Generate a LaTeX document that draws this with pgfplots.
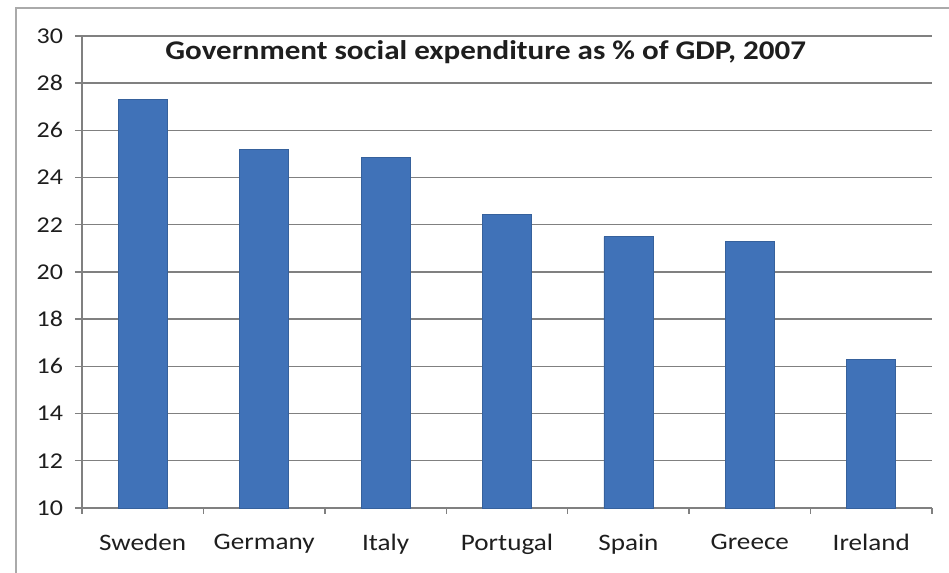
\documentclass[border=0pt]{standalone}
\usepackage{pgfplots}
\pgfplotsset{compat=1.18}
\usepackage{fontspec}
\setmainfont{Carlito}[FakeStretch=1.15]
\definecolor{barblue}{RGB}{64,114,184}
\definecolor{gridgray}{RGB}{128,128,128}
\definecolor{framegray}{RGB}{170,170,170}
\definecolor{txt}{RGB}{30,30,30}
\begin{document}
\begin{tikzpicture}
\path[use as bounding box] (-41pt,-32.5pt) rectangle (433.5pt,254pt);
\draw[framegray, line width=0.6pt] (-33pt,-32.5pt) -- (-33pt,250pt) -- (433.5pt,250pt);
\begin{axis}[
  at={(0,0)}, anchor=south west,
  scale only axis,
  width=425pt, height=236pt,
  xmin=-0.5, xmax=6.5,
  ymin=10, ymax=30,
  ytick={10,12,...,30},
  xtick={0,...,6},
  xticklabels={Sweden,Germany,Italy,Portugal,Spain,Greece,Ireland},
  minor xtick={-0.5,0.5,...,6.5},
  major x tick style={draw=none},
  minor x tick style={gridgray, line width=0.7pt},
  minor tick length=3pt,
  y tick style={gridgray, line width=0.7pt},
  major tick length=3.5pt,
  tick align=outside,
  axis x line*=bottom, axis y line*=left,
  axis line style={gridgray, line width=0.7pt, -},
  ymajorgrids,
  grid style={gridgray, line width=0.7pt},
  /pgf/number format/assume math mode=true,
  ticklabel style={font=\fontsize{11.3}{13}\selectfont, text=txt},
  xticklabel style={font=\fontsize{11.8}{14}\selectfont, text=txt, yshift=-6pt},
  yticklabel style={xshift=-2.5pt},
  ybar, bar width=24.5pt,
  clip=false,
]
\addplot[fill=barblue, draw=barblue!85!black, line width=0.3pt] coordinates {
  (0,27.3) (1,25.2) (2,24.85) (3,22.45) (4,21.5) (5,21.3) (6,16.3)
};
\node[font=\bfseries\fontsize{13.5}{15}\selectfont, text=txt] at (rel axis cs:0.475,0.966) {Government social expenditure as \% of GDP, 2007};
\end{axis}
\end{tikzpicture}
\end{document}
